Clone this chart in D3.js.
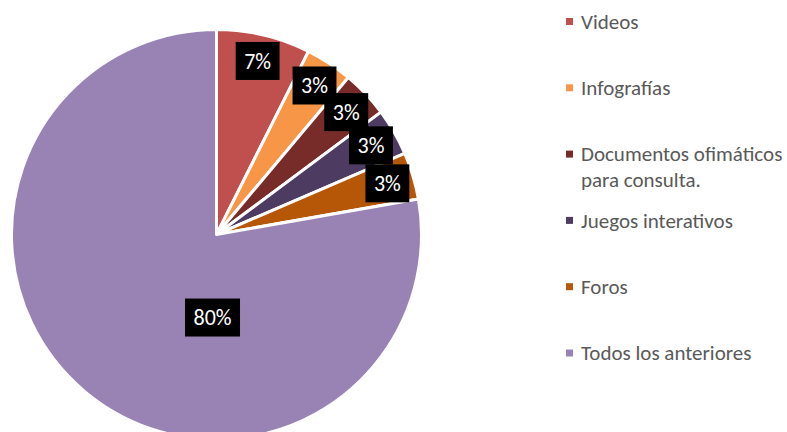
<!DOCTYPE html>
<html>
<head>
<meta charset="utf-8">
<script src="https://cdn.jsdelivr.net/npm/d3@7"></script>
<style>
body{margin:0;background:#fff;}
svg{display:block;font-family:Calibri,Carlito,Lato,sans-serif;}
</style>
</head>
<body>
<svg id="chart" width="787" height="432"></svg>
<script>
// data
var categories=["Videos","Infografías","Documentos ofimáticos para consulta.","Juegos interativos","Foros","Todos los anteriores"];
var counts=[2,1,1,1,1,21];
var labels=["7%","3%","3%","3%","3%","80%"];
var colors=["#c0504d","#f79646","#772c2a","#4d3b62","#b65708","#9983b5"];

var svg=d3.select("#chart"),
	cx=216.5, cy=234.5, r=205;

var data=[];
for(var i=0;i<categories.length;i++){
	data.push({name:categories[i],v:counts[i],label:labels[i],color:colors[i]});
}

var pie=d3.pie().sort(null).value(d=>d.v);
var arcs=pie(data);
var arc=d3.arc().innerRadius(0).outerRadius(r);
var labelArc=d3.arc().innerRadius(r*0.87).outerRadius(r*0.87);

var g=svg.append("g").attr("transform","translate("+cx+","+cy+")");

g.selectAll("path.slice").data(arcs).enter().append("path")
	.attr("class","slice")
	.attr("d",arc)
	.attr("fill",d=>d.data.color)
	.attr("stroke","#fff")
	.attr("stroke-width",3)
	.attr("stroke-linejoin","round");

var maxV=d3.max(counts);
function labelPos(d){
	if(d.data.v==maxV){
		// best fit puts the big one low, towards the middle
		return [-4,r*0.405];
	}
	return labelArc.centroid(d);
}

var lab=g.selectAll("g.lab").data(arcs).enter().append("g")
	.attr("class","lab")
	.attr("transform",d=>"translate("+labelPos(d)+")");

lab.append("text")
	.attr("text-anchor","middle")
	.attr("dy","0.36em")
	.attr("fill","#fff")
	.style("font-size","22px")
	.text(d=>d.data.label);

lab.each(function(){
	var t=d3.select(this).select("text"),
		w=t.node().getComputedTextLength();
	d3.select(this).insert("rect","text")
		.attr("x",-w/2-8.5).attr("y",-19)
		.attr("width",w+17).attr("height",38)
		.attr("fill","#000");
});

// legend
var ly=d3.scalePoint().domain(categories).range([21.5,353]);
var leg=svg.append("g").attr("transform","translate(566,0)");
var items=leg.selectAll("g.item").data(data).enter().append("g")
	.attr("class","item")
	.attr("transform",d=>"translate(0,"+ly(d.name)+")");

items.append("rect")
	.attr("x",0).attr("y",-3.5)
	.attr("width",7).attr("height",7)
	.attr("fill",d=>d.color);

items.append("text")
	.attr("x",15)
	.attr("fill","#595959")
	.style("font-size","21px")
	.each(function(d){
		var t=d3.select(this), words=d.name.split(" "), line=[];
		var ts=t.append("tspan").attr("x",15).attr("dy","0.35em");
		for(var k=0;k<words.length;k++){
			line.push(words[k]);
			ts.text(line.join(" "));
			if(ts.node().getComputedTextLength()>206 && line.length>1){
				line.pop();
				ts.text(line.join(" "));
				line=[words[k]];
				ts=t.append("tspan").attr("x",15).attr("dy","1.2em").text(words[k]);
			}
		}
	});
</script>
</body>
</html>
